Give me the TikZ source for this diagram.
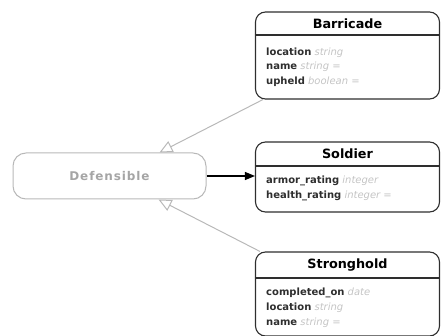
\documentclass[tikz,border=0pt]{standalone}
\usepackage{fontspec}
\setmainfont{DejaVu Sans}
\usetikzlibrary{arrows.meta,calc}
\definecolor{ink}{HTML}{2E2E2E}
\definecolor{faint}{HTML}{B8B8B8}
\definecolor{typegray}{HTML}{C4C4C4}
\definecolor{ifacetext}{HTML}{A5A5A5}
\begin{document}
\begin{tikzpicture}[x=1pt,y=-1pt,
  classbox/.style={draw=ink,line width=1.1pt,rounded corners=10pt,
    minimum width=184pt,inner sep=0pt},
  classtitle/.style={inner sep=0pt,font=\fontsize{12.8}{14}\selectfont\bfseries,text=black},
  divider/.style={draw=ink,line width=1.1pt},
  attr/.style={anchor=west,inner sep=0pt,text height=7.5pt,text depth=2.5pt,
    font=\fontsize{10}{12}\selectfont,text=ink},
  ifacebox/.style={draw=faint,line width=1pt,rounded corners=13pt,
    minimum width=193pt,minimum height=46pt,inner sep=0pt,
    font=\fontsize{12}{14}\selectfont\bfseries,text=ifacetext},
  realizes/.style={draw=faint,line width=1pt,
    -{Triangle[open,length=13pt,width=12pt]}},
  uses/.style={draw=black,line width=1.1pt,
    -{Triangle[length=10pt,width=8pt]}}]
\useasboundingbox (0,0) rectangle (441,336);

\newcommand{\field}[2]{\textbf{#1} {\color{typegray}\itshape #2}}
\newcommand{\gap}{\kern0.9pt}

% interface
\node[ifacebox] (defensible) at (109.5,176)
  {D\gap e\gap f\gap e\gap n\gap s\gap i\gap b\gap l\gap e};

% Barricade
\node[classbox,minimum height=87pt] (barricade) at (347.5,55.5) {};
\node[classtitle] (barricadetitle) at (347.5,24) {Barricade};
\coordinate (bdiv) at (0,35);
\draw[divider] (barricade.west |- bdiv) -- (barricade.east |- bdiv);
\node[attr] (b1) at (266,53) {\field{location}{string}};
\node[attr] (b2) at (266,67.5) {\field{name}{string =}};
\node[attr] (b3) at (266,82) {\field{upheld}{boolean =}};

% Soldier
\node[classbox,minimum height=70pt] (soldier) at (347.5,177) {};
\node[classtitle] (soldiertitle) at (347.5,154) {Soldier};
\coordinate (sdiv) at (0,166);
\draw[divider] (soldier.west |- sdiv) -- (soldier.east |- sdiv);
\node[attr] (s1) at (266,181.5) {\field{armor\_rating}{integer}};
\node[attr] (s2) at (266,196) {\field{health\_rating}{integer =}};

% Stronghold
\node[classbox,minimum height=84pt] (stronghold) at (347.5,294) {};
\node[classtitle] (strongholdtitle) at (347.5,265) {Stronghold};
\coordinate (hdiv) at (0,278);
\draw[divider] (stronghold.west |- hdiv) -- (stronghold.east |- hdiv);
\node[attr] (h1) at (266,293) {\field{completed\_on}{date}};
\node[attr] (h2) at (266,308) {\field{location}{string}};
\node[attr] (h3) at (266,323) {\field{name}{string =}};

% connectors
\draw[uses] (defensible.east) -- (defensible.east -| soldier.west);
\draw[realizes] ($(barricade.south west)+(8,0)$) -- ($(defensible.north west)+(147,0)$);
\draw[realizes] ($(stronghold.north west)+(5,0)$) -- ($(defensible.south west)+(146,0)$);
\end{tikzpicture}
\end{document}
